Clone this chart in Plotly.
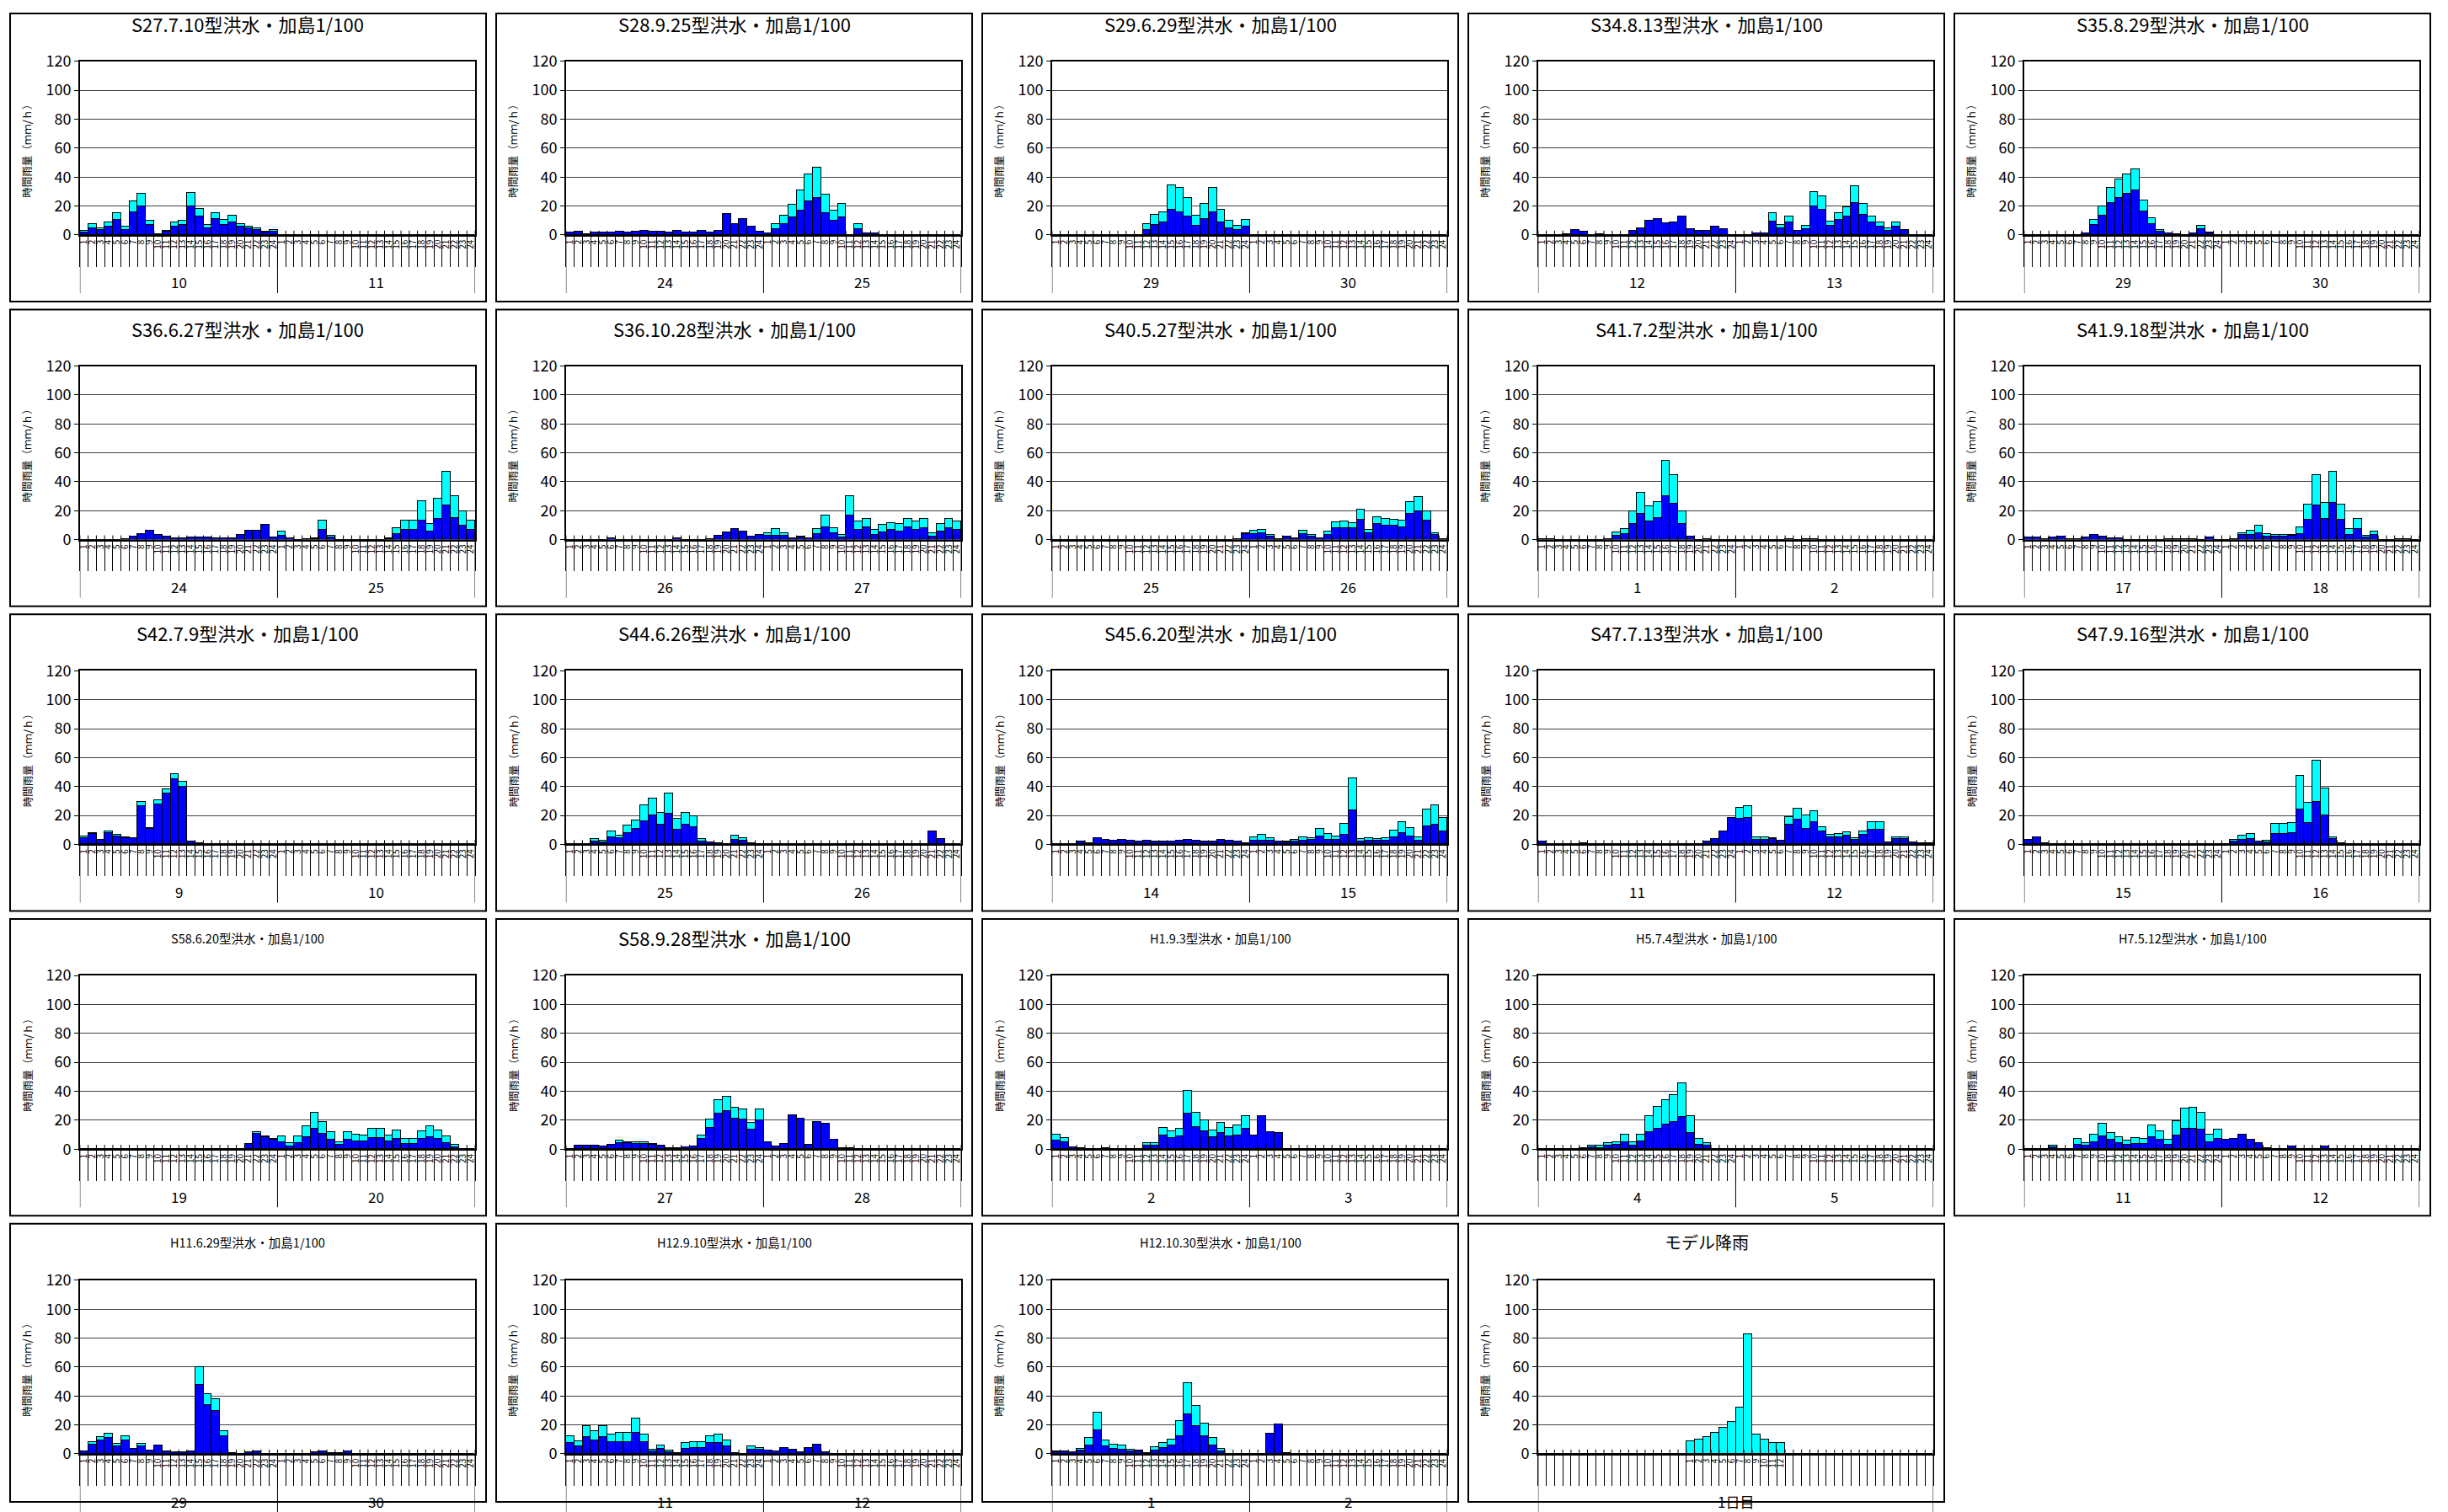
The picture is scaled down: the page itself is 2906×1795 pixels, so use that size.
import plotly.graph_objects as go

W, H = 2906, 1795
BLUE = "#0000ff"
CYAN = "#00ffff"
FONT = "Noto Sans CJK JP"

TITLES = [
    "S27.7.10型洪水・加島1/100", "S28.9.25型洪水・加島1/100", "S29.6.29型洪水・加島1/100",
    "S34.8.13型洪水・加島1/100", "S35.8.29型洪水・加島1/100",
    "S36.6.27型洪水・加島1/100", "S36.10.28型洪水・加島1/100", "S40.5.27型洪水・加島1/100",
    "S41.7.2型洪水・加島1/100", "S41.9.18型洪水・加島1/100",
    "S42.7.9型洪水・加島1/100", "S44.6.26型洪水・加島1/100", "S45.6.20型洪水・加島1/100",
    "S47.7.13型洪水・加島1/100", "S47.9.16型洪水・加島1/100",
    "S58.6.20型洪水・加島1/100", "S58.9.28型洪水・加島1/100", "H1.9.3型洪水・加島1/100",
    "H5.7.4型洪水・加島1/100", "H7.5.12型洪水・加島1/100",
    "H11.6.29型洪水・加島1/100", "H12.9.10型洪水・加島1/100", "H12.10.30型洪水・加島1/100",
    "モデル降雨",
]
SMALL_TITLE = [15, 17, 18, 19, 20, 21, 22]

DAY_LABELS = [
    ["10", "11"], ["24", "25"], ["29", "30"], ["12", "13"], ["29", "30"],
    ["24", "25"], ["26", "27"], ["25", "26"], ["1", "2"], ["17", "18"],
    ["9", "10"], ["25", "26"], ["14", "15"], ["11", "12"], ["15", "16"],
    ["19", "20"], ["27", "28"], ["2", "3"], ["4", "5"], ["11", "12"],
    ["29", "30"], ["11", "12"], ["1", "2"], ["1日目"],
]

HOUR_LABELS = ["1", "2", "3", "4", "5", "6", "7", "8", "9", "10", "11", "12",
               "13", "14", "15", "16", "17", "18", "19", "20", "21", "22", "23", "24"]
MODEL_HOUR_LABELS = ["", "", "", "", "", "", "", "", "", "", "", "", "", "", "", "", "", "",
                     "1", "2", "3", "4", "5", "6", "7", "8", "9", "10", "11", "12",
                     "", "", "", "", "", "", "", "", "", "", "", "", "", "", "", "", "", ""]

Y_TITLE = "時間雨量（ｍｍ/ｈ）"

# ---- hourly rainfall (mm/h), 48 hours each: blue = lower part, cyan = upper part ----
S27_7_10_BLUE = [2, 5, 3.5, 6, 10.8, 3.5, 16, 20, 7.3, 0.8, 2.5, 6, 7.3, 20, 12.7, 4.9, 11.4, 7.3, 9, 5.9, 4.7, 3.7, 2, 2.5,
                 0, 0, 0, 0, 0, 0, 0, 0, 0, 0, 0, 0, 0, 0, 0, 0, 0, 0, 0, 0, 0, 0, 0, 0]
S27_7_10_CYAN = [1, 2.8, 1.5, 2.8, 4.7, 2.5, 7.5, 8.4, 2.5, 0, 0.5, 2.8, 2.5, 9, 5.7, 2, 4.1, 3.3, 4.5, 1.9, 1.2, 1.2, 0.5, 1.2,
                 0, 0, 0, 0, 0, 0, 0, 0, 0, 0, 0, 0, 0, 0, 0, 0, 0, 0, 0, 0, 0, 0, 0, 0]

S28_9_25_BLUE = [1.6, 2.5, 0.8, 1.8, 1.8, 1.8, 2.4, 1.8, 2.4, 2.9, 2.4, 2.4, 1.8, 2.9, 1.8, 1.8, 2.9, 1.8, 2.9, 14.5, 7.8, 11.4, 5.9, 2.4,
                 1.2, 4.1, 7.8, 12.2, 17, 23.5, 25.9, 15.5, 9.8, 12.2, 0, 4.1, 1.2, 1, 0, 0, 0, 0, 0, 0, 0, 0, 0, 0]
S28_9_25_CYAN = [0, 0, 0, 0, 0, 0, 0, 0, 0, 0, 0, 0, 0, 0, 0, 0, 0, 0, 0, 0, 0, 0, 0, 0,
                 0, 3.7, 5.7, 8.6, 13.8, 18.5, 20.8, 12.5, 7.1, 9.6, 0, 3.7, 0, 0, 0, 0, 0, 0, 0, 0, 0, 0, 0, 0]

S29_6_29_BLUE = [0, 0, 0, 0, 0, 0, 0, 0, 0, 0, 0, 3.3, 7, 8.6, 17.6, 16, 12.7, 6.7, 11.4, 16, 9, 4.9, 3.3, 5.9,
                 0, 0, 0, 0, 0, 0, 0, 0, 0, 0, 0, 0, 0, 0, 0, 0, 0, 0, 0, 0, 0, 0, 0, 0]
S29_6_29_CYAN = [0, 0, 0, 0, 0, 0, 0, 0, 0, 0, 0, 4.5, 7.1, 7.4, 17.1, 16.4, 13, 6.8, 10.4, 16.4, 8.6, 4.9, 3.2, 4.7,
                 0, 0, 0, 0, 0, 0, 0, 0, 0, 0, 0, 0, 0, 0, 0, 0, 0, 0, 0, 0, 0, 0, 0, 0]

S34_8_13_BLUE = [0, 0, 0, 0.5, 3.5, 2.4, 0, 0.5, 0, 0, 0, 3, 5, 9.8, 11, 8.5, 9, 13, 4, 3, 3, 6, 4, 0,
                 0, 0, 1, 1, 9.4, 5, 8.6, 3, 4, 20, 17.6, 6.7, 10.6, 12.7, 22.5, 14, 8.6, 5.9, 3, 5.7, 3.3, 0, 0, 0]
S34_8_13_CYAN = [0, 0, 0, 0, 0, 0, 0, 0, 0, 0, 0, 0, 0, 0, 0, 0, 0, 0, 0, 0, 0, 0, 0, 0,
                 0, 0, 0, 0, 5.6, 2, 4.1, 0, 2.7, 9.8, 9.1, 2.7, 4.9, 6.7, 11.5, 7.8, 4.1, 2.7, 1.9, 3.1, 0, 0, 0, 0]

S35_8_29_BLUE = [0, 0, 0, 0, 0, 0, 0, 1, 7.1, 13.4, 22.2, 25.8, 28.7, 30.8, 16.1, 7.8, 2.5, 1, 0.6, 0, 1, 4.2, 1.5, 0,
                 0, 0, 0, 0, 0, 0, 0, 0, 0, 0, 0, 0, 0, 0, 0, 0, 0, 0, 0, 0, 0, 0, 0, 0]
S35_8_29_CYAN = [0, 0, 0, 0, 0, 0, 0, 0, 3.2, 6.3, 10.5, 12.8, 13.2, 14.7, 7.8, 4.1, 1.1, 0, 0, 0, 0, 2.3, 0.5, 0,
                 0, 0, 0, 0, 0, 0, 0, 0, 0, 0, 0, 0, 0, 0, 0, 0, 0, 0, 0, 0, 0, 0, 0, 0]

S36_6_27_BLUE = [0, 0, 0, 0, 0, 0.6, 2.3, 4.3, 6.4, 3.3, 2.3, 1, 1, 1.9, 1.9, 1.9, 1, 1, 1, 3.3, 6.4, 6.4, 10.3, 1.9,
                 2.9, 1, 0, 0.6, 0.6, 6.8, 1.9, 0, 0, 0, 0, 0, 0, 0.5, 3.9, 6.8, 6.8, 13.6, 6.2, 14.4, 23.8, 15, 9.7, 6.8]
S36_6_27_CYAN = [0, 0, 0, 0, 0, 0, 0, 0, 0, 0, 0, 0, 0, 0, 0, 0, 0, 0, 0, 0, 0, 0, 0, 0,
                 3.3, 0.4, 0, 0, 0.4, 6.5, 1, 0, 0, 0, 0, 0, 0, 0.8, 4.3, 6.8, 6.8, 13.4, 5.1, 14.2, 23.2, 15.6, 10, 6.5]

S36_10_28_BLUE = [0, 0, 0, 0, 0, 1, 0, 0, 0, 0, 0, 0, 0, 1, 0, 0, 0, 0.5, 2.9, 5.5, 7.4, 5.8, 2.5, 3.5,
                  3.1, 3.1, 3.1, 1, 1.9, 1.4, 3.9, 9, 4.5, 1.9, 16.8, 6.8, 8.8, 3.3, 5.5, 6.8, 5.8, 8.8, 6.8, 8.4, 2.7, 6.2, 8.4, 6.8]
S36_10_28_CYAN = [0, 0, 0, 0, 0, 0, 0, 0, 0, 0, 0, 0, 0, 0, 0, 0, 0, 0, 0, 0, 0, 0, 0, 0,
                  1.8, 4.3, 1.8, 0, 0.6, 0, 3.9, 7.8, 3.9, 1.4, 13.8, 6.1, 5.6, 3.5, 4.8, 5.1, 5.1, 5.6, 6.1, 6, 1.8, 4.7, 6, 6.1]

S40_5_27_BLUE = [0, 0, 0, 0, 0, 0, 0, 0, 0, 0, 0, 0, 0, 0, 0, 0, 0, 0, 0, 0, 0, 0, 0.8, 4.3,
                 3.9, 4.5, 2.3, 0.8, 2.3, 1.4, 3.9, 2.3, 1.4, 3.3, 8.4, 8.4, 8.4, 14, 4.5, 10.9, 9.7, 9.7, 8.8, 18.3, 20, 13.3, 3.3, 0.8]
S40_5_27_CYAN = [0, 0, 0, 0, 0, 0, 0, 0, 0, 0, 0, 0, 0, 0, 0, 0, 0, 0, 0, 0, 0, 0, 0, 0.6,
                 2.5, 2.7, 1, 0, 0, 0, 2.5, 1, 0, 2.5, 4.1, 4.5, 3.5, 6.9, 2.3, 5.1, 4.7, 4.3, 4.6, 8, 9.6, 6.4, 1.6, 0]

S41_7_2_BLUE = [0.8, 0.8, 0, 0, 0, 0, 0, 0, 0.8, 2.9, 3.9, 10.9, 17.9, 12.9, 15, 30.6, 25.3, 10.9, 2.7, 0, 0.8, 0, 0, 0,
                0, 0, 0, 0, 0, 0, 0.8, 0, 0.8, 0.8, 0, 0, 0, 0, 0, 0, 0, 0, 0, 0, 0, 0, 0, 0]
S41_7_2_CYAN = [0, 0, 0, 0, 0, 0, 0, 0, 0, 2.6, 3.9, 9.1, 14.8, 10.3, 11.5, 24, 19.5, 9.1, 0, 0, 0, 0, 0, 0,
                0, 0, 0, 0, 0, 0, 0, 0, 0, 0, 0, 0, 0, 0, 0, 0, 0, 0, 0, 0, 0, 0, 0, 0]

S41_9_18_BLUE = [1.9, 1.9, 0.8, 1.9, 2.7, 0.8, 0.8, 1.9, 3.3, 2.5, 1.2, 1.2, 0, 0, 0, 0, 0, 0.8, 0.8, 0.8, 0.8, 0, 1.9, 0,
                 0, 0.8, 3.3, 3.8, 5, 2.7, 2.3, 2.3, 2.9, 4.4, 13.8, 23.8, 14.6, 25.8, 13.8, 3.8, 7.5, 2.1, 3.3, 0, 0, 0.8, 0.8, 0]
S41_9_18_CYAN = [0, 0, 0, 0, 0, 0, 0, 0, 0, 0, 0, 0, 0, 0, 0, 0, 0, 0, 0, 0, 0, 0, 0, 0,
                 0, 0, 1.7, 2.7, 5, 1.3, 1, 1, 0.9, 4.6, 11, 21.2, 11.2, 21.7, 10.8, 3.7, 7.1, 0.8, 2.5, 0, 0, 0, 0, 0]

S42_7_9_BLUE = [4.3, 7, 3.1, 7.4, 5.3, 3.9, 3.9, 26.3, 10.3, 27.2, 35, 45, 39.4, 1.8, 0.8, 0, 0, 0, 0, 0, 0, 0, 0, 0,
                0, 0, 0, 0, 0, 0, 0, 0, 0, 0, 0, 0, 0, 0, 0, 0, 0, 0, 0, 0, 0, 0, 0, 0]
S42_7_9_CYAN = [1.2, 0.8, 0, 1.4, 1.1, 0.8, 0, 2.9, 0.8, 3.4, 3, 3.6, 3.5, 0, 0, 0, 0, 0, 0, 0, 0, 0, 0, 0,
                0, 0, 0, 0, 0, 0, 0, 0, 0, 0, 0, 0, 0, 0, 0, 0, 0, 0, 0, 0, 0, 0, 0, 0]

S44_6_26_BLUE = [0, 0, 0, 2.1, 1.4, 4.5, 3.9, 7.4, 10.3, 15.6, 19.7, 13.5, 21, 10.2, 13.3, 11.7, 1.9, 1.4, 0.6, 0, 3.1, 2.7, 0.8, 0,
                 0, 0, 0, 0, 0, 0, 0, 0, 0, 0, 0, 0, 0, 0, 0, 0, 0, 0, 0, 0, 8.6, 3.3, 0, 0]
S44_6_26_CYAN = [0, 0, 0, 1.4, 1.3, 4.1, 2.3, 5.3, 6.3, 11, 12.1, 7.9, 14, 7.2, 8.1, 7.7, 1.4, 0, 0, 0, 2.6, 1.4, 0, 0,
                 0, 0, 0, 0, 0, 0, 0, 0, 0, 0, 0, 0, 0, 0, 0, 0, 0, 0, 0, 0, 0, 0, 0, 0]

S45_6_20_BLUE = [0, 0, 0, 1.8, 0.8, 3.9, 2.9, 2.3, 2.9, 2.3, 1.8, 2.3, 1.8, 1.8, 1.8, 2.3, 2.9, 2.3, 1.8, 1.8, 2.9, 2.3, 1.8, 0.8,
                 2.5, 2.7, 2.3, 1.8, 1.4, 1.8, 2.7, 2.9, 5.5, 3.1, 2.9, 6.7, 23.3, 1.8, 2.3, 2.3, 2.3, 4.7, 7.6, 5.5, 2.7, 12.2, 13.3, 8.8]
S45_6_20_CYAN = [0, 0, 0, 0, 0, 0, 0, 0, 0, 0, 0, 0, 0, 0, 0, 0, 0, 0, 0, 0, 0, 0, 0, 0,
                 2, 3.7, 1.6, 0.3, 0.7, 1.3, 2, 1, 4.8, 3.9, 2.6, 7.2, 22.4, 1.5, 1.8, 1, 1.8, 4.9, 7.5, 5.7, 2, 11.7, 13.4, 9.2]

S47_7_13_BLUE = [1.8, 0, 0, 0, 0, 0.8, 0, 0, 0, 0, 0, 0, 0, 0, 0, 0, 0, 0, 0, 0, 1.8, 3.3, 8.6, 18,
                 17.4, 18.2, 3.1, 3.1, 3.3, 2.7, 13.3, 16.9, 10.3, 15.5, 8.6, 4.7, 4.7, 5.7, 2.9, 6.7, 10.2, 10.2, 1.4, 3.3, 3.3, 1, 0.8, 0.8]
S47_7_13_CYAN = [0, 0, 0, 0, 0, 0, 0, 0, 0, 0, 0, 0, 0, 0, 0, 0, 0, 0, 0, 0, 0, 0, 0, 0.4,
                 7.6, 8.3, 1.6, 1.6, 0.6, 0, 5.7, 7.8, 9.7, 7.5, 3.3, 1.7, 2.5, 2.3, 1.2, 2.1, 4.9, 4.9, 0, 1.6, 1.6, 0.4, 0, 0]

S47_9_16_BLUE = [3.1, 5, 0.8, 0, 0, 0, 0, 0, 0, 0, 0, 0, 0, 0, 0, 0, 0, 0, 0, 0, 0, 0, 0, 0,
                 0, 1.7, 3.1, 3.8, 1.7, 1.5, 7.1, 7.1, 7.9, 24, 14.6, 29.4, 19.8, 3.3, 0.8, 0, 0, 0, 0, 0, 0, 0, 0, 0]
S47_9_16_CYAN = [0, 0, 0, 0, 0, 0, 0, 0, 0, 0, 0, 0, 0, 0, 0, 0, 0, 0, 0, 0, 0, 0, 0, 0,
                 0, 1.4, 2.7, 3.5, 0, 0.8, 7.1, 7.1, 6.5, 23, 13.9, 28.6, 18.5, 1.7, 0, 0, 0, 0, 0, 0, 0, 0, 0, 0]

S58_6_20_BLUE = [0, 0, 0, 0, 0, 0, 0, 0, 0, 0, 0, 0, 0, 0, 0, 0, 0, 0, 0, 0, 3.5, 10.8, 8.3, 6.5,
                 4.8, 2.1, 4, 8.5, 13.8, 10.4, 6.3, 2.9, 6.3, 5.4, 5.4, 7.7, 7.7, 5.4, 6.9, 3.5, 3.5, 6.9, 8.5, 6.9, 4, 1.5, 0, 0]
S58_6_20_CYAN = [0, 0, 0, 0, 0, 0, 0, 0, 0, 0, 0, 0, 0, 0, 0, 0, 0, 0, 0, 0, 0, 0.7, 0.5, 0.6,
                 3.9, 1.9, 4.7, 7.5, 11.6, 8.4, 5.6, 1.9, 5.6, 4.8, 4, 6.1, 6.1, 3.8, 5.8, 3.4, 3.4, 5.6, 7.5, 5.8, 4.7, 1.4, 0, 0]

S58_9_28_BLUE = [0, 2.4, 2.4, 2.4, 1.6, 2.9, 4.3, 3.9, 3.3, 3.3, 2.9, 2.2, 0.6, 0.6, 1, 1.6, 7, 14.7, 24.7, 26.5, 21.2, 20.2, 13.7, 20,
                 4.9, 1.6, 3.5, 23.5, 21.2, 2.9, 18.8, 17.3, 6.7, 0.8, 0.8, 0, 0, 0, 0, 0, 0, 0, 0, 0, 0, 0, 0, 0]
S58_9_28_CYAN = [0, 0, 0, 0, 0, 0, 1.6, 0.6, 1.6, 1.6, 0.6, 0, 0, 0, 0, 0, 2.6, 5.5, 9, 9.5, 7.6, 7.4, 4.7, 7.6,
                 0, 0, 0, 0, 0, 0, 0, 0, 0, 0, 0, 0, 0, 0, 0, 0, 0, 0, 0, 0, 0, 0, 0, 0]

H1_9_3_BLUE = [6.2, 4.7, 1, 0.8, 0, 0, 0.8, 0, 0, 0, 0, 2.5, 2.5, 9.4, 7.7, 8.7, 24.7, 15.5, 12.5, 8.5, 10.9, 8.7, 9.6, 14,
               9.4, 22.6, 11.9, 11.1, 0, 0, 0, 0, 0, 0, 0, 0, 0, 0, 0, 0, 0, 0, 0, 0, 0, 0, 0, 0]
H1_9_3_CYAN = [4, 3, 0.5, 0, 0, 0, 0, 0, 0, 0, 0, 1.5, 1.5, 5.3, 4.8, 5.5, 15.3, 9.4, 7.1, 4.3, 7, 6.2, 7, 8.6,
               0, 0, 0, 0, 0, 0, 0, 0, 0, 0, 0, 0, 0, 0, 0, 0, 0, 0, 0, 0, 0, 0, 0, 0]

H5_7_4_BLUE = [0, 0, 0, 0, 0, 0.6, 1.5, 0.8, 2.5, 3, 4.5, 2.5, 5.5, 11.7, 14.2, 17.2, 18.5, 22.3, 10.9, 3, 2.5, 0, 0, 0,
               0, 0, 0, 0, 0, 0, 0, 0, 0, 0, 0, 0, 0, 0, 0, 0, 0, 0, 0, 0, 0, 0, 0, 0]
H5_7_4_CYAN = [0, 0, 0, 0, 0, 0, 0.8, 1.5, 1.5, 1.7, 5.7, 2, 4.7, 10.9, 15.2, 16.8, 18.9, 23.4, 11.7, 4, 1.7, 0, 0, 0,
               0, 0, 0, 0, 0, 0, 0, 0, 0, 0, 0, 0, 0, 0, 0, 0, 0, 0, 0, 0, 0, 0, 0, 0]

H7_5_12_BLUE = [0, 0, 0, 1.2, 0, 0, 3.2, 2.4, 4.7, 8.7, 6.3, 4.1, 3.2, 3.7, 3.7, 8.3, 6.3, 3.2, 9.3, 14.2, 14.2, 13.2, 4.7, 6.9,
                6.3, 6.9, 9.7, 6.3, 4.1, 0.8, 0, 0, 1.8, 0, 0, 0, 1.8, 0, 0, 0, 0, 0, 0, 0, 0, 0, 0, 0]
H7_5_12_CYAN = [0, 0, 0, 1.2, 0, 0, 3.7, 1.7, 5.4, 8.9, 5.1, 4.2, 2.5, 4, 3.2, 7.9, 6.1, 3.5, 10, 13.8, 14.4, 12, 5.4, 6.3,
                0, 0, 0, 0, 0, 0, 0, 0, 0, 0, 0, 0, 0, 0, 0, 0, 0, 0, 0, 0, 0, 0, 0, 0]

H11_6_29_BLUE = [1.9, 6.5, 9.4, 10.9, 5.4, 9.4, 3.3, 5.4, 2.5, 6.1, 1.9, 1.3, 1.3, 1.9, 48, 33.7, 30, 12.5, 0.8, 0, 1.3, 1.9, 0, 0,
                 0, 0, 0, 0, 1.3, 1.9, 0.8, 0.8, 1.9, 0, 0, 0, 0, 0, 0, 0, 0, 0, 0, 0, 0, 0, 0, 0]
H11_6_29_CYAN = [0, 1.9, 2.3, 3.1, 1.5, 2.9, 0, 1.5, 0, 0, 0, 0, 0, 0, 11.8, 7.9, 7.7, 3.2, 0, 0, 0, 0, 0, 0,
                 0, 0, 0, 0, 0, 0, 0, 0, 0, 0, 0, 0, 0, 0, 0, 0, 0, 0, 0, 0, 0, 0, 0, 0]

H12_9_10_BLUE = [7.7, 5.4, 11.5, 9.4, 11.7, 8.4, 8.4, 8.4, 14.6, 8.4, 1.9, 3.8, 1.5, 0.6, 3.8, 4.4, 4.4, 7.5, 7.5, 5.4, 0.8, 0, 3.1, 3.1,
                 2.5, 1.9, 4, 3.1, 1, 4, 6.3, 1.5, 0, 0, 0, 0, 0, 0, 0, 0, 0, 0, 0, 0, 0, 0, 0, 0]
H12_9_10_CYAN = [4.6, 3.6, 8, 6.3, 7.5, 5.2, 6.4, 6.4, 10.1, 5.2, 1.2, 2.3, 1.2, 0, 3.9, 4, 4, 5, 5.7, 4, 0, 0, 2.5, 0.9,
                 0, 0, 0, 0, 0, 0, 0, 0, 0, 0, 0, 0, 0, 0, 0, 0, 0, 0, 0, 0, 0, 0, 0, 0]

H12_10_30_BLUE = [1.5, 1.9, 1, 2.7, 6, 16.3, 5.4, 3.7, 3.1, 1.9, 1.7, 0.6, 2.7, 4, 6.1, 12.5, 27.5, 19.2, 12.5, 6.1, 1.9, 0, 0, 0,
                  0, 0, 14.2, 20.3, 0.6, 0, 0, 0, 0, 0, 0, 0, 0, 0, 0, 0, 0, 0, 0, 0, 0, 0, 0, 0]
H12_10_30_CYAN = [0.4, 0, 0, 1.1, 5, 12.5, 4, 3, 3, 1.2, 1, 0, 2.3, 3.5, 3.7, 10.4, 21.5, 14.3, 8.4, 4.9, 1.9, 0, 0, 0,
                  0, 0, 0, 0, 0, 0, 0, 0, 0, 0, 0, 0, 0, 0, 0, 0, 0, 0, 0, 0, 0, 0, 0, 0]

MODEL_BLUE = [0, 0, 0, 0, 0, 0, 0, 0, 0, 0, 0, 0, 0, 0, 0, 0, 0, 0, 0, 0, 0, 0, 0, 0,
              0, 0, 0, 0, 0, 0, 0, 0, 0, 0, 0, 0, 0, 0, 0, 0, 0, 0, 0, 0, 0, 0, 0, 0]
MODEL_CYAN = [0, 0, 0, 0, 0, 0, 0, 0, 0, 0, 0, 0, 0, 0, 0, 0, 0, 0, 8.7, 9.8, 11.9, 14.8, 18, 22.3,
              32, 83, 13.5, 9.8, 7.7, 7.7, 0, 0, 0, 0, 0, 0, 0, 0, 0, 0, 0, 0, 0, 0, 0, 0, 0, 0]

BLUES = [S27_7_10_BLUE, S28_9_25_BLUE, S29_6_29_BLUE, S34_8_13_BLUE, S35_8_29_BLUE,
         S36_6_27_BLUE, S36_10_28_BLUE, S40_5_27_BLUE, S41_7_2_BLUE, S41_9_18_BLUE,
         S42_7_9_BLUE, S44_6_26_BLUE, S45_6_20_BLUE, S47_7_13_BLUE, S47_9_16_BLUE,
         S58_6_20_BLUE, S58_9_28_BLUE, H1_9_3_BLUE, H5_7_4_BLUE, H7_5_12_BLUE,
         H11_6_29_BLUE, H12_9_10_BLUE, H12_10_30_BLUE, MODEL_BLUE]
CYANS = [S27_7_10_CYAN, S28_9_25_CYAN, S29_6_29_CYAN, S34_8_13_CYAN, S35_8_29_CYAN,
         S36_6_27_CYAN, S36_10_28_CYAN, S40_5_27_CYAN, S41_7_2_CYAN, S41_9_18_CYAN,
         S42_7_9_CYAN, S44_6_26_CYAN, S45_6_20_CYAN, S47_7_13_CYAN, S47_9_16_CYAN,
         S58_6_20_CYAN, S58_9_28_CYAN, H1_9_3_CYAN, H5_7_4_CYAN, H7_5_12_CYAN,
         H11_6_29_CYAN, H12_9_10_CYAN, H12_10_30_CYAN, MODEL_CYAN]

# ---------------- layout geometry (target pixels) ----------------
COL_PITCH, ROW_PITCH = 578, 361.5
BOX_W, BOX_H = 566, 352
PL, PR, PT, PB = 83, 553, 67, 273      # plot area inside a panel box
TICK_DOWN = 35                          # hour tick marks below the axis
SEP_DOWN = 69                           # day separators below the axis

# the rendered page shows the figure slightly squeezed vertically; map target rows to figure rows
VSCALE, VOFF = 0.9848, 14.25


def fy(t):
    """target vertical pixel -> paper y"""
    p = (t - VOFF) / VSCALE
    return 1 - p / H


fig = go.Figure()
layout = {}
shapes = []
annos = []
NSLOT = 48
slots = list(range(NSLOT))

for i in range(24):
    r, c = divmod(i, 5)
    bl = 8 + COL_PITCH * c
    bt = 5 + ROW_PITCH * r
    n = "" if i == 0 else str(i + 1)
    xn, yn = "x" + n, "y" + n
    blue = (BLUES[i] + [0] * NSLOT)[:NSLOT]
    cyan = (CYANS[i] + [0] * NSLOT)[:NSLOT]
    model = (i == 23)

    if not model:
        fig.add_trace(go.Bar(x=slots, y=blue, xaxis=xn, yaxis=yn, showlegend=False, hoverinfo="skip",
                             marker=dict(color=BLUE, line=dict(color="black", width=1))))
    fig.add_trace(go.Bar(x=slots, y=cyan, xaxis=xn, yaxis=yn, showlegend=False, hoverinfo="skip",
                         marker=dict(color=CYAN, line=dict(color="black", width=1))))
    # short tick stubs above the baseline
    sx, sy = [], []
    for b in range(NSLOT + 1):
        sx += [b - 0.5, b - 0.5, None]
        sy += [0, 3, None]
    fig.add_trace(go.Scatter(x=sx, y=sy, mode="lines", xaxis=xn, yaxis=yn, showlegend=False,
                             hoverinfo="skip", line=dict(color="black", width=1)))

    x0, x1 = (bl + PL) / W, (bl + PR) / W
    y0, y1 = fy(bt + PB), fy(bt + PT)
    plot_h_fig = (PB - PT) / VSCALE
    labels = MODEL_HOUR_LABELS if model else HOUR_LABELS + HOUR_LABELS
    layout["xaxis" + n] = dict(
        domain=[x0, x1], anchor=yn, range=[-0.5, NSLOT - 0.5],
        tickmode="array", tickvals=slots, ticktext=labels, tickangle=-90,
        tickfont=dict(size=10, color="black", family=FONT), ticks="",
        showline=True, linecolor="black", linewidth=1.5, mirror=True,
        showgrid=False, zeroline=False, fixedrange=True,
        minor=dict(tickmode="array", tickvals=[b - 0.5 for b in range(NSLOT + 1)],
                   ticks="outside", ticklen=round(TICK_DOWN / VSCALE), tickcolor="black",
                   tickwidth=1, showgrid=False),
    )
    layout["yaxis" + n] = dict(
        domain=[y0, y1], anchor=xn, range=[0, 120], tickmode="linear", tick0=0, dtick=20,
        ticks="outside", ticklen=5, tickcolor="black",
        tickfont=dict(size=18, color="black", family=FONT),
        showgrid=True, gridcolor="#404040", gridwidth=1,
        showline=True, linecolor="black", linewidth=1.5, mirror=True, zeroline=False, fixedrange=True,
    )

    seps = [-0.5, NSLOT - 0.5] if model else [-0.5, 23.5, NSLOT - 0.5]
    for xv in seps:
        shapes.append(dict(type="line", xref=xn, yref=yn + " domain", x0=xv, x1=xv,
                           y0=0, y1=-(SEP_DOWN / VSCALE) / plot_h_fig, line=dict(color="black", width=1)))

    # panel border
    top = min(fy(bt), 0.9995)
    bot = max(fy(bt + BOX_H), 0.0005)
    shapes.append(dict(type="rect", xref="paper", yref="paper",
                       x0=bl / W, x1=(bl + BOX_W) / W, y0=bot, y1=top,
                       line=dict(color="black", width=2), fillcolor="rgba(0,0,0,0)"))

    # title
    if model:
        tsize = 20
    elif i in SMALL_TITLE:
        tsize = 14.5
    else:
        tsize = 22
    annos.append(dict(text=TITLES[i], xref="paper", yref="paper", x=(bl + BOX_W / 2) / W,
                      y=fy(bt + 22), xanchor="center", yanchor="middle", showarrow=False,
                      font=dict(size=tsize, color="black", family=FONT)))
    # y title
    annos.append(dict(text=Y_TITLE, xref="paper", yref="paper", x=(bl + 20) / W,
                      y=fy(bt + (PT + PB) / 2), xanchor="center", yanchor="middle",
                      textangle=-90, showarrow=False, font=dict(size=12.5, color="black", family=FONT)))
    # day labels
    days = DAY_LABELS[i]
    centers = [23.5] if model else [11.5, 35.5]
    for d, cx in zip(days, centers):
        annos.append(dict(text=d, xref=xn, yref="paper", x=cx, y=fy(bt + 329),
                          xanchor="center", yanchor="middle", showarrow=False,
                          font=dict(size=17, color="black", family=FONT)))

fig.update_layout(
    width=W, height=H, margin=dict(l=0, r=0, t=0, b=0),
    paper_bgcolor="white", plot_bgcolor="white",
    barmode="stack", bargap=0, showlegend=False,
    font=dict(family=FONT, color="black"),
    shapes=shapes, annotations=annos, **layout,
)

fig.write_html("out.html")
